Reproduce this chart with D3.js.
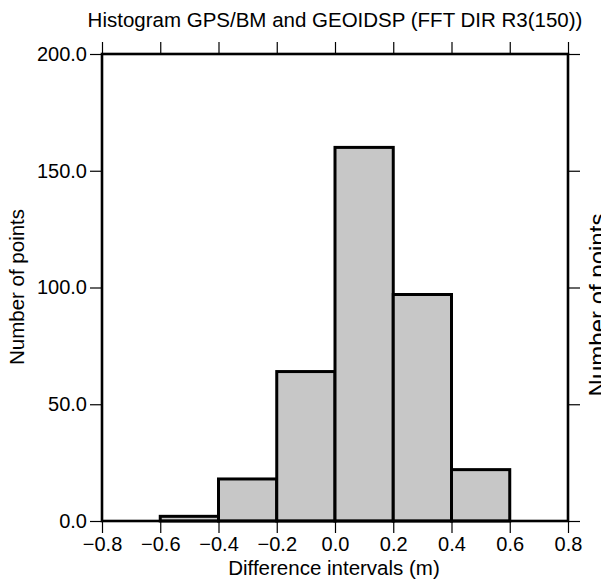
<!DOCTYPE html>
<html>
<head>
<meta charset="utf-8">
<script src="https://cdn.jsdelivr.net/npm/d3@7"></script>
<style>
  html, body { margin: 0; padding: 0; background: #fff; }
  svg { display: block; }
  text { font-family: "Liberation Sans", Arial, Helvetica, sans-serif; fill: #000; }
</style>
</head>
<body>
<svg id="chart" width="601" height="581"></svg>
<script>
// Histogram bins (metres) and the number of points in each
const binLower = [-0.6, -0.4, -0.2, 0.0, 0.2, 0.4];
const binUpper = [-0.4, -0.2, 0.0, 0.2, 0.4, 0.6];
const counts   = [2, 18, 64, 160, 97, 22];

const xTicks = [-0.8, -0.6, -0.4, -0.2, 0.0, 0.2, 0.4, 0.6, 0.8];
const yTicks = [0, 50, 100, 150, 200];

const titleText = "Histogram GPS/BM and GEOIDSP (FFT DIR R3(150))";
const xLabel = "Difference intervals (m)";
const yLabel = "Number of points";

const svg = d3.select("#chart");
const plotL = 102, plotR = 568, plotT = 54, plotB = 521;

const x = d3.scaleLinear().domain([-0.8, 0.8]).range([plotL, plotR]);
const y = d3.scaleLinear().domain([0, 200]).range([plotB, plotT]);

const bins = counts.map((c, i) => ({ lo: binLower[i], hi: binUpper[i], n: c }));

// bars
svg.append("g").selectAll("rect").data(bins).join("rect")
  .attr("x", d => x(d.lo))
  .attr("y", d => y(d.n))
  .attr("width", d => x(d.hi) - x(d.lo))
  .attr("height", d => y(0) - y(d.n))
  .attr("fill", "#c7c7c7")
  .attr("stroke", "#000")
  .attr("stroke-width", 3)
  .attr("stroke-linejoin", "miter");

const fmt = d3.format(".1f");

function styleAxis(g) {
  g.select(".domain").remove();
  g.selectAll(".tick line").attr("stroke", "#000").attr("stroke-width", 1.2);
  g.selectAll(".tick text")
    .attr("font-family", "'Liberation Sans', Arial, Helvetica, sans-serif")
    .attr("font-size", 20)
    .attr("fill", "#000");
}

svg.append("g").attr("transform", `translate(0,${plotB})`)
  .call(d3.axisBottom(x).tickValues(xTicks).tickFormat(fmt).tickSize(12).tickPadding(4))
  .call(styleAxis);
svg.append("g").attr("transform", `translate(0,${plotT})`)
  .call(d3.axisTop(x).tickValues(xTicks).tickFormat("").tickSize(12))
  .call(styleAxis);
svg.append("g").attr("transform", `translate(${plotL},0)`)
  .call(d3.axisLeft(y).tickValues(yTicks).tickFormat(fmt).tickSize(12).tickPadding(3))
  .call(styleAxis);
svg.append("g").attr("transform", `translate(${plotR},0)`)
  .call(d3.axisRight(y).tickValues(yTicks).tickFormat("").tickSize(12))
  .call(styleAxis);

// frame
svg.append("rect")
  .attr("x", plotL).attr("y", plotT)
  .attr("width", plotR - plotL).attr("height", plotB - plotT)
  .attr("fill", "none").attr("stroke", "#000").attr("stroke-width", 2.6);

// titles
svg.append("text")
  .attr("x", 335).attr("y", 27)
  .attr("text-anchor", "middle").attr("font-size", 20.5)
  .text(titleText);

svg.append("text")
  .attr("x", 334).attr("y", 575)
  .attr("text-anchor", "middle").attr("font-size", 20.5)
  .text(xLabel);

svg.append("text")
  .attr("transform", `translate(24,287) rotate(-90)`)
  .attr("text-anchor", "middle").attr("font-size", 20.5)
  .text(yLabel);

// axis title of the neighbouring panel, running off the right edge
svg.append("text")
  .attr("transform", `translate(606,305) rotate(-90)`)
  .attr("text-anchor", "middle").attr("font-size", 24)
  .text(yLabel);
</script>
</body>
</html>
